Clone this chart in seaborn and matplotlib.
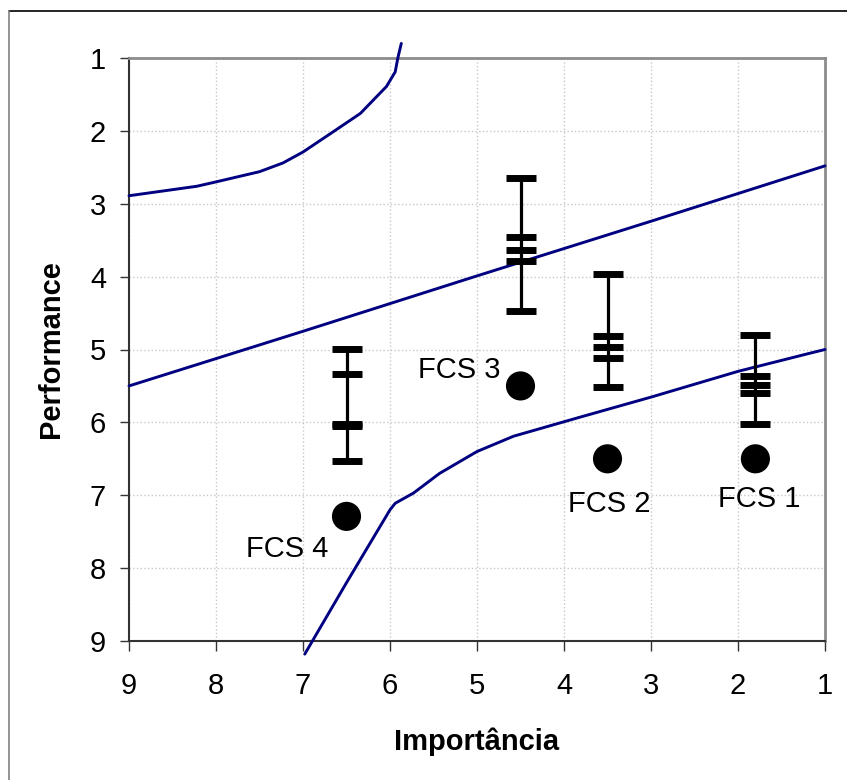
import matplotlib
matplotlib.use("Agg")
import matplotlib.pyplot as plt
from matplotlib.lines import Line2D
import seaborn as sns

# ---------------- data ----------------
fcs_labels = ["FCS 1", "FCS 2", "FCS 3", "FCS 4"]
importancia = [1.8, 3.5, 4.5, 6.5]
performance = [6.5, 6.5, 5.5, 7.29]

bar_high = [4.80, 3.96, 2.65, 4.99]
bar_low = [6.02, 5.51, 4.47, 6.53]
mark_a = [5.37, 4.81, 3.45, 5.33]
mark_b = [5.49, 4.97, 3.64, 6.02]
mark_c = [5.60, 5.11, 3.79, 6.05]

top_x = [9.0, 8.22, 8.0, 7.5, 7.23, 7.0, 6.65, 6.34, 6.04, 5.94, 5.91, 5.87]
top_y = [2.89, 2.76, 2.70, 2.56, 2.44, 2.29, 2.01, 1.76, 1.39, 1.19, 1.0, 0.80]

mid_x = [9.0, 7.0, 5.0, 3.0, 1.0]
mid_y = [5.5, 4.75, 3.99, 3.24, 2.48]

low_x = [6.98, 6.5, 6.0, 5.94, 5.73, 5.43, 5.0, 4.58, 3.82, 2.99, 2.0, 1.17, 1.0]
low_y = [9.18, 8.2, 7.2, 7.11, 6.97, 6.70, 6.40, 6.19, 5.93, 5.65, 5.30, 5.05, 5.0]

ticks = [1, 2, 3, 4, 5, 6, 7, 8, 9]

# label offsets (points) relative to each dot: layout only
label_offsets = [(3, -35), (1, -38.5), (-44, 6), (-43, -29)]

# ---------------- style ----------------
sns.set_theme(style="white")
plt.rcParams["font.family"] = ["Liberation Sans", "DejaVu Sans"]
plt.rcParams["text.color"] = "black"
plt.rcParams["axes.labelcolor"] = "black"
plt.rcParams["xtick.color"] = "black"
plt.rcParams["ytick.color"] = "black"

W, H = 847, 780
fig = plt.figure(figsize=(W / 100, H / 100), dpi=100)
ax = fig.add_axes([129 / W, 1 - 641 / H, (825 - 129) / W, (641 - 58) / H])

NAVY = "#000080"

# curves
for xs, ys in [(top_x, top_y), (mid_x, mid_y), (low_x, low_y)]:
    sns.lineplot(x=xs, y=ys, sort=False, estimator=None, color=NAVY,
                 lw=2.1, ax=ax, zorder=3)
for ln in ax.get_lines():
    ln.set_clip_on(False)

# high-low stems and marks
ax.vlines(importancia, bar_high, bar_low, color="black", lw=2.3, zorder=4)
for vals in [bar_high, bar_low, mark_a, mark_b, mark_c]:
    ax.plot(importancia, vals, ls="none", marker="_", ms=21, mew=5,
            color="black", zorder=5)

# dots
sns.scatterplot(x=importancia, y=performance, s=440, color="black",
                edgecolor="none", ax=ax, zorder=6)

for lab, x, y, off in zip(fcs_labels, importancia, performance, label_offsets):
    ax.annotate(lab, (x, y), xytext=off, textcoords="offset points",
                ha="center", va="baseline", fontsize=21, color="black")

# axes
ax.set_xlim(9, 1)
ax.set_ylim(9, 1)
ax.set_xticks(ticks)
ax.set_yticks(ticks)
ax.grid(True, color="#c8c8c8", ls=":", lw=1.0)
ax.set_axisbelow(True)

for side in ["left", "bottom"]:
    ax.spines[side].set_color("#333333")
    ax.spines[side].set_linewidth(1.5)
for side in ["top", "right"]:
    ax.spines[side].set_color("#8c8c8c")
    ax.spines[side].set_linewidth(2.0)

ax.tick_params(axis="x", direction="out", length=7, width=1, color="#333333",
               labelcolor="black", labelsize=21, pad=15, bottom=True)
ax.tick_params(axis="y", direction="out", length=6.5, width=1, color="#333333",
               labelcolor="black", labelsize=21, pad=10, left=True)

ax.set_xlabel("Importância", fontsize=21, fontweight="bold", color="black")
ax.set_ylabel("Performance", fontsize=21, fontweight="bold", color="black")
ax.xaxis.set_label_coords(0.5, -0.148)
ax.yaxis.set_label_coords(-0.092, 0.5)

# outer frame
fig.add_artist(Line2D([9 / W, 1], [1 - 11 / H] * 2, color="black", lw=1.2))
fig.add_artist(Line2D([9 / W] * 2, [0, 1 - 11 / H], color="#808080", lw=1.2))

fig.savefig("out.png", dpi=100)
